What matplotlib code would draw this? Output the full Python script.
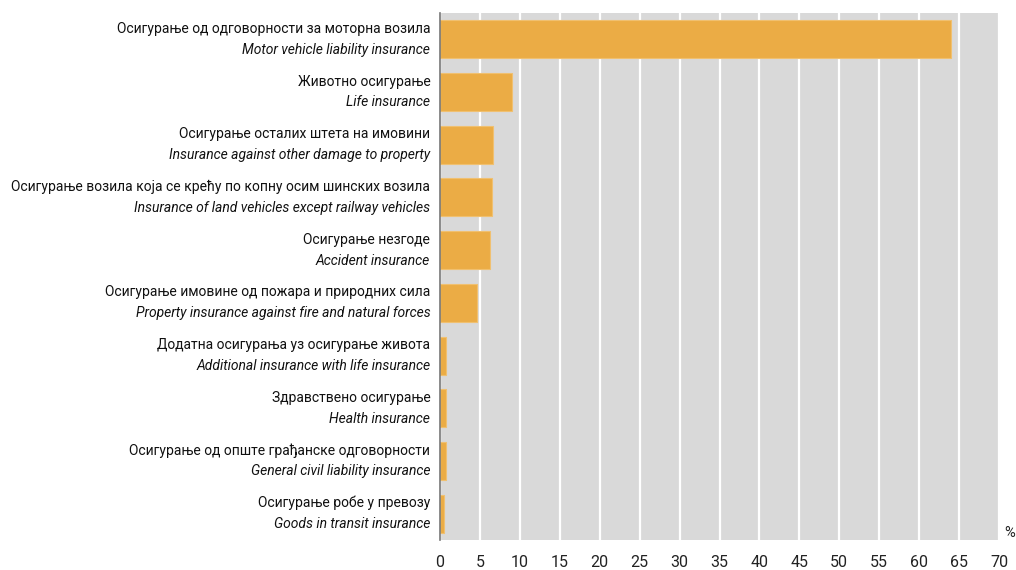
import matplotlib
matplotlib.use("Agg")
import matplotlib.pyplot as plt

labels_sr = [
    "Осигурање од одговорности за моторна возила",
    "Животно осигурање",
    "Осигурање осталих штета на имовини",
    "Осигурање возила која се крећу по копну осим шинских возила",
    "Осигурање незгоде",
    "Осигурање имовине од пожара и природних сила",
    "Додатна осигурања уз осигурање живота",
    "Здравствено осигурање",
    "Осигурање од опште грађанске одговорности",
    "Осигурање робе у превозу",
]
labels_en = [
    "Motor vehicle liability insurance",
    "Life insurance",
    "Insurance against other damage to property",
    "Insurance of land vehicles except railway vehicles",
    "Accident insurance",
    "Property insurance against fire and natural forces",
    "Additional insurance with life insurance",
    "Health insurance",
    "General civil liability insurance",
    "Goods in transit insurance",
]
values = [64.0, 9.0, 6.6, 6.5, 6.2, 4.6, 0.8, 0.7, 0.7, 0.5]
xticks = list(range(0, 75, 5))

plt.rcParams["font.family"] = ["Roboto", "DejaVu Sans"]

fig = plt.figure(figsize=(10.16, 5.70), dpi=100)
ax = fig.add_axes([440/1016, 1 - 540/570, (999-440)/1016, (540-13)/570])
ax.set_facecolor("#d9d9d9")

ypos = list(range(len(values)))
ax.barh(ypos, values, height=0.72, color="#ebac45", edgecolor="#f0c070", linewidth=0.8, zorder=3)
ax.set_ylim(len(values) - 0.5, -0.5)
ax.set_xlim(0, 70)
ax.set_xticks(xticks)
ax.set_xticklabels([str(t) for t in xticks], fontsize=11.5, color="#222222")
ax.tick_params(axis="x", length=0, pad=11)
ax.set_yticks([])
ax.grid(axis="x", color="white", linewidth=1.6, zorder=1)
ax.set_axisbelow(True)
for s in ["top", "right", "bottom"]:
    ax.spines[s].set_visible(False)
ax.spines["left"].set_color("#777777")
ax.spines["left"].set_linewidth(1.2)
ax.spines["left"].set_zorder(4)

fig.canvas.draw()
renderer = fig.canvas.get_renderer()
texts = []
for y, sr, en in zip(ypos, labels_sr, labels_en):
    t1 = ax.annotate(sr, xy=(0, y), xycoords=("axes fraction", "data"), xytext=(-7, 7.5),
                     textcoords="offset points", ha="right", va="center", fontsize=10.5, color="#111111")
    t2 = ax.annotate(en, xy=(0, y), xycoords=("axes fraction", "data"), xytext=(-7, -7.5),
                     textcoords="offset points", ha="right", va="center", fontsize=10.5,
                     style="italic", color="#111111")
    texts += [t1, t2]

# shrink label font so the longest fits the space left of the axes (as in reference)
avail = 440 - 10 - 10
maxw = max(t.get_window_extent(renderer).width for t in texts)
if maxw > avail:
    scale = avail / maxw
    for t in texts:
        t.set_fontsize(t.get_fontsize() * scale)

fig.text(1010/1016, 1 - 533/570, "%", ha="center", va="center", fontsize=10.5, color="#222222")

fig.savefig("out.png", dpi=100)
